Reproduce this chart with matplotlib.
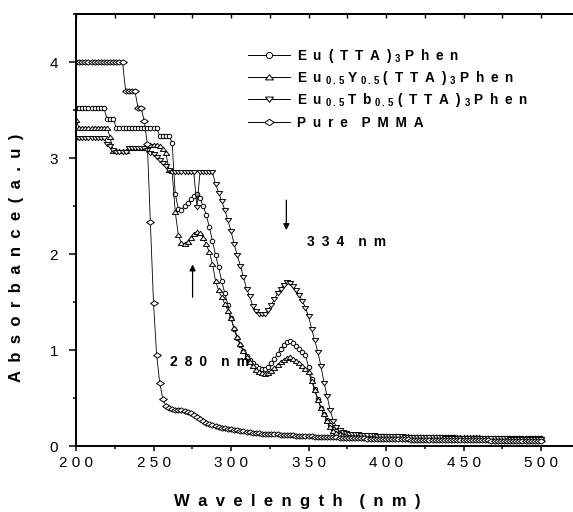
import matplotlib
matplotlib.use("Agg")
import matplotlib.pyplot as plt
import matplotlib.ticker
from matplotlib.lines import Line2D
from matplotlib.path import Path
import numpy as np

plt.rcParams['font.family'] = ['Liberation Sans', 'DejaVu Sans']
plt.rcParams['mathtext.fontset'] = 'custom'
plt.rcParams['mathtext.rm'] = 'Liberation Sans'
plt.rcParams['mathtext.bf'] = 'Liberation Sans:bold'

# sampling grid, nm (200 ... 500 every 2 nm)
wavelength = np.arange(200, 502, 2)

eu_phen = [
    3.52, 3.52, 3.52, 3.52, 3.52, 3.52, 3.52, 3.52, 3.52, 3.52,   # 200
    3.41, 3.41, 3.41, 3.31, 3.31, 3.31, 3.31, 3.31, 3.31, 3.31,   # 220
    3.31, 3.31, 3.31, 3.31, 3.31, 3.31, 3.31, 3.23, 3.23, 3.23,   # 240
    3.23, 3.16, 2.63, 2.47, 2.46, 2.50, 2.53, 2.57, 2.60, 2.62,   # 260
    2.58, 2.50, 2.41, 2.28, 2.14, 1.99, 1.86, 1.72, 1.59, 1.47,   # 280
    1.33, 1.22, 1.12, 1.05, 0.99, 0.94, 0.90, 0.86, 0.83, 0.81,   # 300
    0.80, 0.80, 0.82, 0.86, 0.91, 0.96, 1.01, 1.05, 1.08, 1.09,   # 320
    1.07, 1.04, 1.01, 0.98, 0.95, 0.82, 0.70, 0.59, 0.49, 0.40,   # 340
    0.33, 0.27, 0.22, 0.18, 0.16, 0.14, 0.13, 0.12, 0.12, 0.115,  # 360
    0.11, 0.11, 0.11, 0.105, 0.105, 0.105, 0.10, 0.10, 0.10, 0.10,  # 380
    0.10, 0.10, 0.098, 0.098, 0.096, 0.096, 0.095, 0.095, 0.094, 0.094,  # 400
    0.093, 0.093, 0.092, 0.092, 0.091, 0.091, 0.09, 0.09, 0.09, 0.09,  # 420
    0.09, 0.089, 0.089, 0.088, 0.088, 0.088, 0.087, 0.087, 0.087, 0.086,  # 440
    0.086, 0.086, 0.085, 0.085, 0.085, 0.084, 0.084, 0.084, 0.083, 0.083,  # 460
    0.083, 0.082, 0.082, 0.082, 0.081, 0.081, 0.081, 0.08, 0.08, 0.08,  # 480
    0.08,                                                          # 500
]

eu_y = [
    3.40, 3.31, 3.31, 3.31, 3.31, 3.31, 3.31, 3.31, 3.31, 3.31,   # 200
    3.31, 3.22, 3.07, 3.07, 3.07, 3.07, 3.07, 3.10, 3.10, 3.10,   # 220
    3.10, 3.10, 3.10, 3.14, 3.14, 3.14, 3.14, 3.12, 3.09, 3.05,   # 240
    2.88, 2.86, 2.44, 2.20, 2.11, 2.10, 2.13, 2.17, 2.21, 2.23,   # 260
    2.22, 2.17, 2.10, 2.02, 1.90, 1.72, 1.62, 1.55, 1.48, 1.41,   # 280
    1.33, 1.23, 1.14, 1.06, 0.99, 0.93, 0.88, 0.83, 0.79, 0.77,   # 300
    0.76, 0.75, 0.76, 0.78, 0.81, 0.84, 0.87, 0.90, 0.92, 0.93,   # 320
    0.91, 0.89, 0.86, 0.83, 0.80, 0.77, 0.68, 0.58, 0.48, 0.40,   # 340
    0.33, 0.26, 0.20, 0.16, 0.14, 0.13, 0.125, 0.12, 0.12, 0.115,  # 360
    0.115, 0.112, 0.11, 0.11, 0.108, 0.108, 0.105, 0.105, 0.104, 0.104,  # 380
    0.103, 0.102, 0.102, 0.10, 0.10, 0.10, 0.099, 0.099, 0.098, 0.098,  # 400
    0.097, 0.097, 0.096, 0.096, 0.095, 0.095, 0.094, 0.094, 0.093, 0.093,  # 420
    0.092, 0.092, 0.092, 0.091, 0.091, 0.09, 0.09, 0.09, 0.089, 0.089,  # 440
    0.089, 0.088, 0.088, 0.088, 0.087, 0.087, 0.087, 0.086, 0.086, 0.086,  # 460
    0.085, 0.085, 0.085, 0.084, 0.084, 0.084, 0.083, 0.083, 0.083, 0.082,  # 480
    0.082,                                                         # 500
]

eu_tb = [
    3.21, 3.21, 3.21, 3.21, 3.21, 3.21, 3.21, 3.21, 3.21, 3.21,   # 200
    3.15, 3.12, 3.08, 3.06, 3.06, 3.06, 3.06, 3.10, 3.10, 3.10,   # 220
    3.10, 3.10, 3.10, 3.08, 3.05, 3.04, 3.01, 2.98, 2.95, 2.92,   # 240
    2.88, 2.85, 2.85, 2.85, 2.85, 2.85, 2.85, 2.85, 2.85, 2.49,   # 260
    2.85, 2.85, 2.85, 2.85, 2.85, 2.73, 2.64, 2.55, 2.46, 2.35,   # 280
    2.24, 2.10, 1.99, 1.88, 1.76, 1.64, 1.56, 1.46, 1.41, 1.38,   # 300
    1.37, 1.38, 1.42, 1.47, 1.53, 1.59, 1.64, 1.68, 1.71, 1.70,   # 320
    1.67, 1.62, 1.57, 1.51, 1.44, 1.35, 1.22, 1.10, 0.98, 0.83,   # 340
    0.66, 0.52, 0.37, 0.26, 0.20, 0.17, 0.15, 0.135, 0.13, 0.125,  # 360
    0.12, 0.12, 0.115, 0.115, 0.112, 0.11, 0.11, 0.108, 0.106, 0.105,  # 380
    0.104, 0.103, 0.102, 0.10, 0.10, 0.099, 0.098, 0.097, 0.096, 0.095,  # 400
    0.095, 0.094, 0.093, 0.092, 0.092, 0.091, 0.09, 0.09, 0.089, 0.088,  # 420
    0.088, 0.087, 0.087, 0.086, 0.086, 0.085, 0.085, 0.084, 0.084, 0.083,  # 440
    0.083, 0.082, 0.082, 0.081, 0.081, 0.08, 0.08, 0.08, 0.079, 0.079,  # 460
    0.078, 0.078, 0.078, 0.077, 0.077, 0.077, 0.076, 0.076, 0.076, 0.075,  # 480
    0.075,                                                         # 500
]

pmma = [
    4.0, 4.0, 4.0, 4.0, 4.0, 4.0, 4.0, 4.0, 4.0, 4.0,             # 200
    4.0, 4.0, 4.0, 4.0, 4.0, 4.0, 3.70, 3.70, 3.70, 3.70,         # 220
    3.52, 3.52, 3.39, 3.15, 2.33, 1.49, 0.95, 0.66, 0.49, 0.42,   # 240
    0.40, 0.39, 0.38, 0.37, 0.37, 0.36, 0.35, 0.34, 0.32, 0.30,   # 260
    0.28, 0.26, 0.24, 0.23, 0.22, 0.21, 0.20, 0.19, 0.185, 0.18,  # 280
    0.175, 0.17, 0.165, 0.16, 0.155, 0.15, 0.145, 0.14, 0.14, 0.135,  # 300
    0.13, 0.13, 0.125, 0.12, 0.12, 0.12, 0.115, 0.115, 0.11, 0.11,  # 320
    0.11, 0.105, 0.105, 0.10, 0.10, 0.10, 0.10, 0.095, 0.095, 0.095,  # 340
    0.09, 0.09, 0.09, 0.09, 0.09, 0.085, 0.085, 0.085, 0.085, 0.08,  # 360
    0.08, 0.08, 0.08, 0.08, 0.075, 0.075, 0.075, 0.075, 0.075, 0.07,  # 380
    0.07, 0.07, 0.07, 0.07, 0.07, 0.068, 0.068, 0.068, 0.066, 0.066,  # 400
    0.065, 0.065, 0.065, 0.064, 0.064, 0.064, 0.063, 0.063, 0.063, 0.062,  # 420
    0.062, 0.062, 0.061, 0.061, 0.061, 0.06, 0.06, 0.06, 0.06, 0.059,  # 440
    0.059, 0.058, 0.058, 0.058, 0.057, 0.057, 0.057, 0.056, 0.056, 0.056,  # 460
    0.055, 0.055, 0.054, 0.054, 0.053, 0.053, 0.052, 0.052, 0.051, 0.051,  # 480
    0.05,                                                          # 500
]

SP = '\u2002'  # en space, gives the wide letter spacing of the original
SUB3 = r"$_{\mathbf{3}}$"
SUB05 = r"$_{\mathbf{0}\,\mathbf{.}\,\mathbf{5}}$"


def spaced(text):
    return SP.join(text)


labels = [
    spaced("Eu(TTA)") + " " + SUB3 + " " + spaced("Phen"),
    spaced("Eu") + " " + SUB05 + " Y " + SUB05 + " " + spaced("(TTA)") + " "
    + SUB3 + " " + spaced("Phen"),
    spaced("Eu") + " " + SUB05 + " " + spaced("Tb") + " " + SUB05 + " "
    + spaced("(TTA)") + " " + SUB3 + " " + spaced("Phen"),
    spaced("Pure") + SP * 2 + spaced("PMMA"),
]


def closed_marker(verts):
    return Path(verts + [verts[0]], closed=True)


# squashed marker shapes, like the original export
tri_up = closed_marker([(-1, -0.6), (1, -0.6), (0, 0.7)])
tri_down = closed_marker([(-1, 0.6), (1, 0.6), (0, -0.7)])
diamond = closed_marker([(-1, 0), (0, 0.68), (1, 0), (0, -0.68)])

series = [
    (eu_phen, 'o', 3.2),
    (eu_y, tri_up, 4.6),
    (eu_tb, tri_down, 4.6),
    (pmma, diamond, 5.6),
]


@matplotlib.ticker.FuncFormatter
def spaced_formatter(x, pos):
    return ' '.join(str(int(round(x))))


fig = plt.figure(figsize=(5.73, 5.12), dpi=100)
ax = fig.add_axes([76 / 573, 66 / 512, 497 / 573, 432 / 512])

for values, marker, ms in series:
    ax.plot(wavelength, values, color='black', linewidth=0.6,
            marker=marker, markersize=ms, markerfacecolor='white',
            markeredgecolor='black', markeredgewidth=0.7)

ax.set_xlim(200, 520.6)
ax.set_ylim(0, 4.5)

ax.set_xticks(np.arange(200, 501, 50))
ax.xaxis.set_minor_locator(matplotlib.ticker.MultipleLocator(25))
ax.xaxis.set_major_formatter(spaced_formatter)
ax.set_yticks([0, 1, 2, 3, 4])
ax.yaxis.set_minor_locator(matplotlib.ticker.MultipleLocator(0.5))

ax.tick_params(axis='x', which='major', direction='out', length=3.5, width=1.1,
               pad=4, labelsize=11)
ax.tick_params(axis='x', which='minor', direction='out', length=2.5, width=1.1)
ax.tick_params(axis='y', which='major', direction='out', length=5, width=1.1,
               pad=8, labelsize=11)
ax.tick_params(axis='y', which='minor', direction='out', length=2.5, width=1.1)

top = ax.secondary_xaxis('top')
top.set_xticks(np.arange(200, 521, 25))
top.tick_params(direction='in', length=3, width=1.0, labeltop=False)
top.spines['top'].set_linewidth(1.4)

for side in ('left', 'bottom', 'top'):
    ax.spines[side].set_linewidth(1.4)
ax.spines['right'].set_visible(False)

ax.set_xlabel(spaced("Wavelength") + SP * 2 + spaced("(nm)"), fontsize=12,
              fontweight='bold')
ax.xaxis.set_label_coords((297 - 76) / 497, (446 - 494) / 432)
ax.set_ylabel(spaced("Absorbance(a.u)"), fontsize=12, fontweight='bold')
ax.yaxis.set_label_coords((24 - 76) / 497, (446 - 258) / 432)

# annotations
ax.annotate('', xy=(335.7, 2.22), xytext=(335.7, 2.59),
            arrowprops=dict(arrowstyle='-|>', color='black', lw=0.9,
                            mutation_scale=9))
ax.text(348.7, 2.125, spaced("334") + SP * 2 + spaced("nm"), fontsize=10,
        fontweight='bold', ha='left', va='center')
ax.annotate('', xy=(275.2, 1.92), xytext=(275.2, 1.52),
            arrowprops=dict(arrowstyle='-|>', color='black', lw=0.9,
                            mutation_scale=9))
ax.text(260.8, 0.87, spaced("280") + SP * 2 + spaced("nm"), fontsize=10,
        fontweight='bold', ha='left', va='center')

# legend drawn by hand to match the original row spacing
W, H = 573.0, 512.0
rows_y = [55, 77, 99, 122]
for (values, marker, ms), label, ry in zip(series, labels, rows_y):
    fy = 1 - ry / H
    fig.add_artist(Line2D([248 / W, 290 / W], [fy, fy], color='black',
                          linewidth=0.7, transform=fig.transFigure))
    fig.add_artist(Line2D([269 / W], [fy], marker=marker, markersize=ms + 1.2,
                          markerfacecolor='white', markeredgecolor='black',
                          markeredgewidth=0.7, transform=fig.transFigure))
    fig.text(297 / W, 1 - (ry + 5) / H, label, fontsize=9.8, fontweight='bold',
             ha='left', va='baseline')

fig.savefig('out.png', dpi=100)
